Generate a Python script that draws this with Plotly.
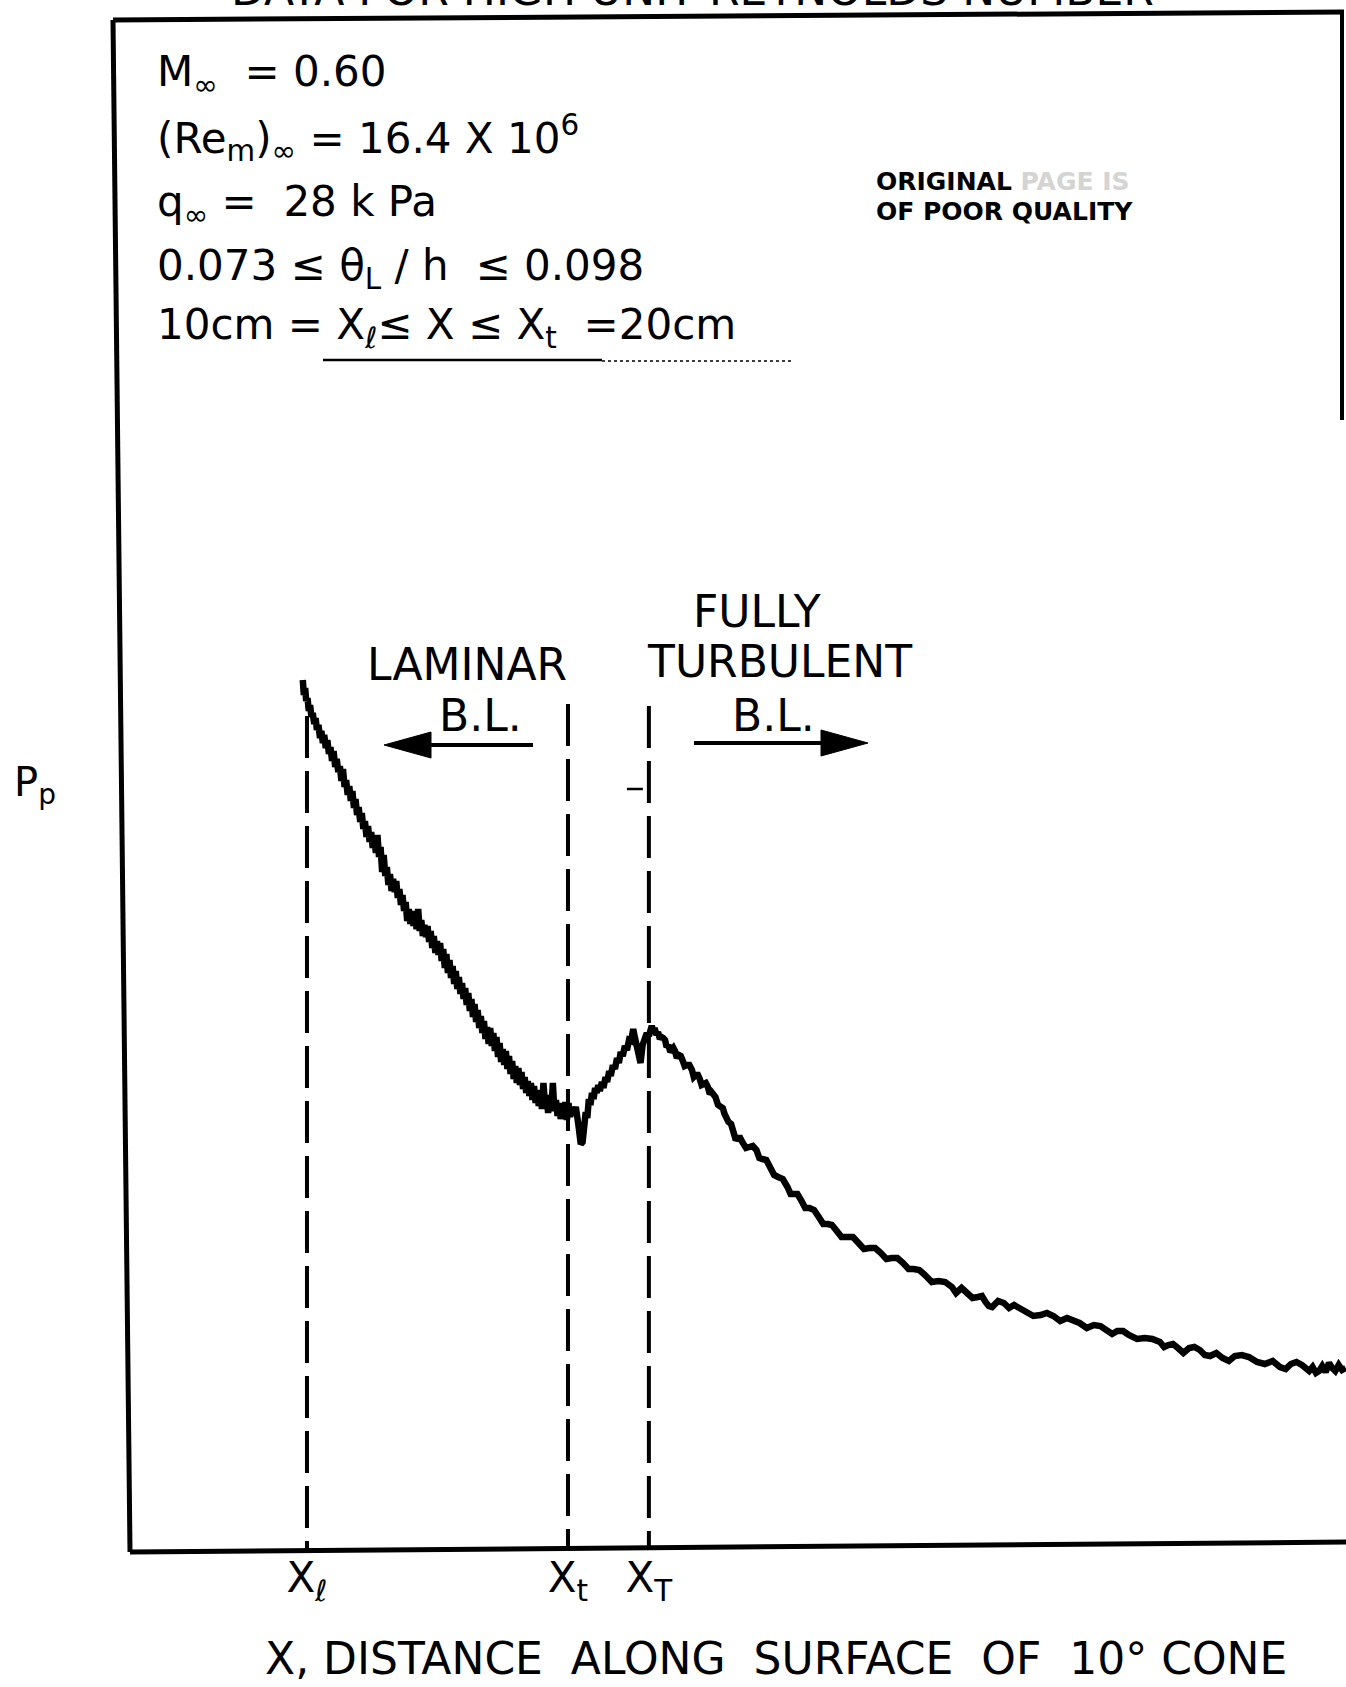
import plotly.graph_objects as go

# ---------------- data ----------------
# x: distance along the cone surface (cm); Pp: pressure fluctuation level (arbitrary units)
laminar_x = [9.84, 9.88, 9.93, 9.97, 10.02, 10.07, 10.12, 10.17, 10.22, 10.28,
             10.33, 10.38, 10.44, 10.50, 10.55, 10.61, 10.66, 10.72, 10.78, 10.84,
             10.90, 10.96, 11.02, 11.08, 11.14, 11.20, 11.26, 11.32, 11.38, 11.44,
             11.50, 11.56, 11.62, 11.68, 11.74, 11.80, 11.86, 11.92, 11.98, 12.04,
             12.10, 12.16, 12.22, 12.28, 12.34, 12.40, 12.46, 12.52, 12.58, 12.64,
             12.70, 12.76, 12.82, 12.88, 12.94,
             13.00, 13.06, 13.12, 13.18, 13.24, 13.30, 13.36, 13.42, 13.48, 13.54,
             13.60, 13.66, 13.72, 13.78, 13.84, 13.90, 13.96, 14.02, 14.08, 14.14,
             14.20, 14.26, 14.32, 14.38, 14.44, 14.50, 14.56, 14.62, 14.68, 14.74,
             14.80, 14.86, 14.92, 14.98, 15.04, 15.10, 15.16, 15.22, 15.28, 15.34,
             15.40, 15.46, 15.52, 15.58, 15.64, 15.70, 15.76, 15.82, 15.88, 15.94,
             16.00, 16.06, 16.12, 16.18, 16.24, 16.30, 16.36, 16.42, 16.48, 16.54,
             16.60, 16.66, 16.72, 16.78, 16.84, 16.90, 16.96, 17.02, 17.08, 17.14,
             17.20, 17.26, 17.32, 17.38, 17.44, 17.50, 17.56, 17.62, 17.68, 17.74,
             17.80, 17.86, 17.92, 17.98, 18.04, 18.10, 18.16, 18.22, 18.28, 18.34,
             18.40, 18.46, 18.52, 18.58, 18.64, 18.70, 18.76, 18.82, 18.88, 18.94,
             19.00, 19.06, 19.12, 19.18, 19.24, 19.30, 19.36, 19.42, 19.48, 19.54,
             19.60, 19.66, 19.72, 19.78, 19.84, 19.90, 19.96, 20.02, 20.08, 20.14,
             20.20, 20.30]
laminar_pp = [86.7, 85.2, 85.9, 84.6, 84.9, 83.6, 84.2, 83.0, 83.4, 82.3,
              82.9, 81.7, 82.2, 80.9, 81.6, 80.4, 81.2, 79.9, 80.7, 79.3,
              80.0, 78.6, 79.6, 78.0, 78.8, 77.5, 78.1, 76.6, 77.8, 76.0,
              76.7, 75.2, 76.1, 74.6, 75.6, 73.9, 74.8, 73.2, 74.0, 72.5,
              73.4, 71.8, 72.6, 71.0, 72.1, 70.5, 71.5, 69.9, 70.9, 69.4,
              71.2, 69.0, 70.0, 67.5, 69.2,
              67.1, 68.0, 66.2, 67.3, 65.6, 66.8, 65.5, 66.6, 64.9, 65.8,
              64.2, 65.2, 63.6, 64.5, 62.6, 63.8, 62.3, 63.6, 62.1, 63.1,
              61.8, 63.8, 61.6, 62.7, 61.1, 62.2, 61.0, 62.1, 60.5, 61.6,
              59.9, 61.1, 59.4, 60.6, 59.2, 60.4, 58.6, 59.8, 57.9, 59.3,
              57.4, 58.7, 56.9, 58.1, 56.3, 57.6, 55.8, 57.0, 55.3, 56.4,
              54.8, 55.9, 54.2, 55.4, 53.6, 54.8, 53.0, 54.3, 52.5, 53.7,
              51.9, 53.1, 51.4, 52.6, 50.8, 52.0, 50.3, 51.9, 50.1, 51.4,
              49.6, 51.0, 49.0, 50.4, 48.5, 49.8, 48.2, 49.6, 47.8, 49.1,
              47.3, 48.6, 46.8, 48.1, 46.4, 47.9, 46.2, 47.5, 45.8, 47.0,
              45.4, 46.6, 45.1, 46.4, 44.7, 46.1, 44.4, 45.7, 44.1, 45.4,
              43.8, 46.4, 44.3, 45.0, 43.4, 45.2, 43.6, 46.4, 43.6, 44.7,
              43.1, 44.4, 42.8, 44.0, 43.0, 44.5, 42.7, 44.4, 43.0, 44.0,
              43.2, 44.0]

transition_x = [20.40, 20.49, 20.56, 20.62, 20.68, 20.74, 20.80, 20.86, 20.92, 20.98,
                21.04, 21.10, 21.16, 21.22, 21.30, 21.36, 21.44, 21.50, 21.58, 21.64,
                21.72, 21.80, 21.88, 21.95, 22.02, 22.10, 22.18, 22.26, 22.34, 22.42,
                22.50, 22.56, 22.62, 22.70, 22.78, 22.86, 22.94, 23.02, 23.10]
transition_pp = [42.2, 40.3, 40.5, 42.5, 43.5, 42.9, 44.8, 44.2, 45.4, 44.8,
                 45.9, 45.4, 46.2, 45.6, 46.5, 45.9, 47.0, 46.5, 47.6, 47.1,
                 48.2, 47.8, 48.9, 48.4, 49.5, 49.1, 50.1, 49.7, 50.7, 50.6,
                 51.8, 51.0, 50.3, 49.0, 48.4, 50.2, 51.0, 51.4, 51.1]

turbulent_x = [23.21, 23.27, 23.32, 23.39, 23.45, 23.52, 23.58, 23.65, 23.72, 23.78,
               23.85, 23.92, 23.98, 24.04, 24.10, 24.17, 24.24, 24.32, 24.40, 24.47,
               24.55, 24.65, 24.75, 24.82, 24.90, 24.98, 25.05, 25.12, 25.20, 25.28,
               25.36, 25.43, 25.50, 25.58, 25.65, 25.75, 25.86, 25.93, 26.00, 26.08,
               26.15, 26.25, 26.36, 26.43, 26.50, 26.60, 26.70, 26.82, 26.95, 27.08,
               27.22, 27.33, 27.45, 27.60, 27.74, 27.90, 28.05, 28.23, 28.41, 28.53,
               28.65, 28.79, 28.93, 29.09, 29.25, 29.43, 29.61, 29.78, 29.95, 30.11,
               30.27, 30.48, 30.70, 30.92, 31.13, 31.34, 31.55, 31.77, 31.99, 32.20,
               32.40, 32.62, 32.84, 33.05, 33.25, 33.46, 33.68, 33.94, 34.20, 34.45,
               34.71, 34.87, 35.08, 35.30, 35.50, 35.71, 35.86, 36.00, 36.12, 36.25,
               36.48, 36.70, 36.90, 37.09, 37.32, 37.55, 37.83, 38.11, 38.35, 38.60,
               38.86, 39.12, 39.36, 39.60, 39.88, 40.15, 40.40, 40.65, 40.85, 41.05,
               41.27, 41.49, 41.80, 42.10, 42.39, 42.68, 42.84, 43.00, 43.18, 43.37,
               43.58, 43.80, 44.00, 44.21, 44.40, 44.60, 44.84, 45.08, 45.32, 45.55,
               45.82, 46.09, 46.40, 46.70, 47.00, 47.28, 47.50, 47.70, 47.91, 48.12,
               48.26, 48.40, 48.53, 48.66, 48.78, 48.90, 49.03, 49.16, 49.28, 49.40,
               49.53, 49.66, 49.80]
turbulent_pp = [52.1, 51.6, 51.9, 51.2, 51.5, 50.8, 51.0, 50.9, 50.7, 50.0,
                50.2, 49.5, 49.7, 49.9, 49.6, 48.9, 49.2, 49.1, 48.6, 48.1,
                48.2, 48.2, 47.7, 47.0, 47.2, 47.2, 46.8, 46.2, 46.3, 46.4,
                46.0, 45.3, 45.5, 45.3, 45.0, 44.2, 44.0, 43.9, 43.3, 42.6,
                42.5, 42.3, 41.4, 40.7, 40.9, 40.9, 40.4, 39.9, 40.0, 40.1,
                39.7, 38.9, 38.8, 38.7, 38.0, 37.2, 37.0, 36.8, 36.0, 35.3,
                35.3, 35.3, 34.7, 33.9, 33.9, 33.7, 33.0, 32.3, 32.3, 32.2,
                31.7, 31.0, 31.0, 31.0, 30.4, 29.8, 29.9, 29.9, 29.4, 28.8,
                28.9, 28.9, 28.4, 27.8, 27.8, 27.7, 27.2, 26.5, 26.6, 26.5,
                26.0, 25.4, 25.9, 25.4, 24.9, 25.0, 25.1, 24.5, 24.1, 24.0,
                24.6, 24.4, 23.9, 24.2, 23.9, 23.6, 23.1, 23.2, 23.4, 23.1,
                22.6, 22.9, 22.7, 22.4, 21.9, 22.2, 22.1, 21.7, 21.3, 21.6,
                21.6, 21.2, 20.8, 20.9, 20.8, 20.5, 20.0, 20.2, 20.3, 19.9,
                19.4, 19.9, 20.0, 19.7, 19.2, 19.1, 19.4, 18.9, 18.6, 19.1,
                19.2, 19.0, 18.5, 18.3, 18.6, 18.0, 17.8, 18.3, 18.5, 18.2,
                17.8, 17.6, 18.0, 17.4, 17.6, 18.1, 17.5, 18.4, 17.9, 17.6,
                18.2, 17.7, 17.9]

marker_x = [10.0, 20.0, 23.1]                       # X_l, X_t, X_T (cm)
marker_top = [83.1, 84.3, 84.1]                     # top of the dashed markers (Pp units)
marker_labels = ["X<sub>ℓ</sub>", "X<sub>t</sub>", "X<sub>T</sub>"]

x_range = [2.874, 49.81]
y_range = [-0.2, 153.1]

params_text = [
    "M<sub>∞</sub>  = 0.60",
    "(Re<sub>m</sub>)<sub>∞</sub> = 16.4 X 10<sup>6</sup>",
    "q<sub>∞</sub> =  28 k Pa",
    "0.073 ≤ θ<sub>L</sub> / h  ≤ 0.098",
    "10cm = X<sub>ℓ</sub>≤ X ≤ X<sub>t</sub>  =20cm",
]

# ---------------- layout geometry (pixels) ----------------
W, H = 1346, 1687
L, R, T, B = 121, 1346, 16, 1549
FONT = "DejaVu Sans"


def px(xp):
    return (xp - L) / (R - L)


def py(yp):
    return (B - yp) / (B - T)


fig = go.Figure()

# dashed marker lines at X_l, X_t, X_T
for xv, top in zip(marker_x, marker_top):
    fig.add_trace(go.Scatter(x=[xv, xv], y=[top, y_range[0]], mode="lines",
                             line=dict(color="black", width=4, dash="42px,13px"),
                             hoverinfo="skip", showlegend=False))

# the Pp record
x_cm = laminar_x + transition_x + turbulent_x
pp = laminar_pp + transition_pp + turbulent_pp
fig.add_trace(go.Scatter(x=x_cm, y=pp, mode="lines",
                         line=dict(color="black", width=6.5),
                         showlegend=False))

shapes = []


def seg(x0, y0, x1, y1, w=5, dash=None):
    d = dict(type="line", xref="paper", yref="paper",
             x0=px(x0), y0=py(y0), x1=px(x1), y1=py(y1),
             line=dict(color="black", width=w))
    if dash:
        d["line"]["dash"] = dash
    return d


# frame (slightly skewed, as scanned)
shapes.append(seg(113, 20, 1344, 12, 5))      # top
shapes.append(seg(113, 20, 130, 1552, 5))     # left
shapes.append(seg(130, 1552, 1350, 1542, 5))  # bottom
shapes.append(seg(1342, 12, 1342, 420, 4))    # right (visible part)

# underline beneath the last parameter line
shapes.append(seg(323, 360, 602, 360, 2.5))
shapes.append(seg(602, 361, 792, 361, 1.5, "dot"))

# arrows
shapes.append(seg(533, 745, 425, 745, 4))
shapes.append(dict(type="path", xref="paper", yref="paper", fillcolor="black",
                   line=dict(color="black", width=1),
                   path=f"M {px(384)},{py(745)} L {px(431)},{py(732)} L {px(431)},{py(758)} Z"))
shapes.append(seg(694, 743, 826, 743, 4))
shapes.append(dict(type="path", xref="paper", yref="paper", fillcolor="black",
                   line=dict(color="black", width=1),
                   path=f"M {px(868)},{py(743)} L {px(821)},{py(730)} L {px(821)},{py(756)} Z"))

# small tick mark left of the X_T line
shapes.append(dict(type="line", xref="x", yref="y", x0=22.26, x1=22.87, y0=75.8, y1=75.8,
                   line=dict(color="black", width=2.5)))


def ann(text, xp, yp, size, xanchor="center", bold=False, color="black"):
    return dict(text=text, x=px(xp), y=py(yp), xref="paper", yref="paper",
                showarrow=False, xanchor=xanchor, yanchor="middle",
                font=dict(family=FONT, size=size, color=color,
                          weight=("bold" if bold else "normal")))


annotations = []
# heading, cut off at the top edge of the scan (as in the original)
annotations.append(ann("DATA FOR HIGH UNIT REYNOLDS NUMBER", 692, -10, 44))

line_y = [74, 138, 204, 268, 327]
for t, yv in zip(params_text, line_y):
    annotations.append(ann(t, 155, yv, 42, xanchor="left"))

annotations.append(ann("ORIGINAL <span style='color:#d4d4d4'>PAGE IS</span>", 874, 181, 25,
                       xanchor="left", bold=True))
annotations.append(ann("OF POOR QUALITY", 874, 211, 25, xanchor="left", bold=True))

annotations.append(ann("FULLY", 757, 611, 44))
annotations.append(ann("LAMINAR", 467, 664, 44))
annotations.append(ann("TURBULENT", 779, 661, 44))
annotations.append(ann("B.L.", 480, 715, 44))
annotations.append(ann("B.L.", 773, 715, 44))

annotations.append(ann("P<sub>p</sub>", 12, 785, 40, xanchor="left"))
annotations.append(ann("X, DISTANCE  ALONG  SURFACE  OF  10° CONE", 776, 1658, 44))

fig.update_layout(
    width=W, height=H, autosize=False,
    margin=dict(l=L, r=W - R, t=T, b=H - B, pad=0),
    paper_bgcolor="white", plot_bgcolor="white",
    xaxis=dict(range=x_range, showgrid=False, zeroline=False, showline=False,
               tickmode="array", tickvals=marker_x, ticktext=marker_labels,
               ticks="", tickfont=dict(family=FONT, size=42, color="black")),
    yaxis=dict(range=y_range, showgrid=False, zeroline=False, showline=False,
               showticklabels=False, ticks=""),
    shapes=shapes, annotations=annotations,
    showlegend=False,
)

fig.write_html("out.html")
